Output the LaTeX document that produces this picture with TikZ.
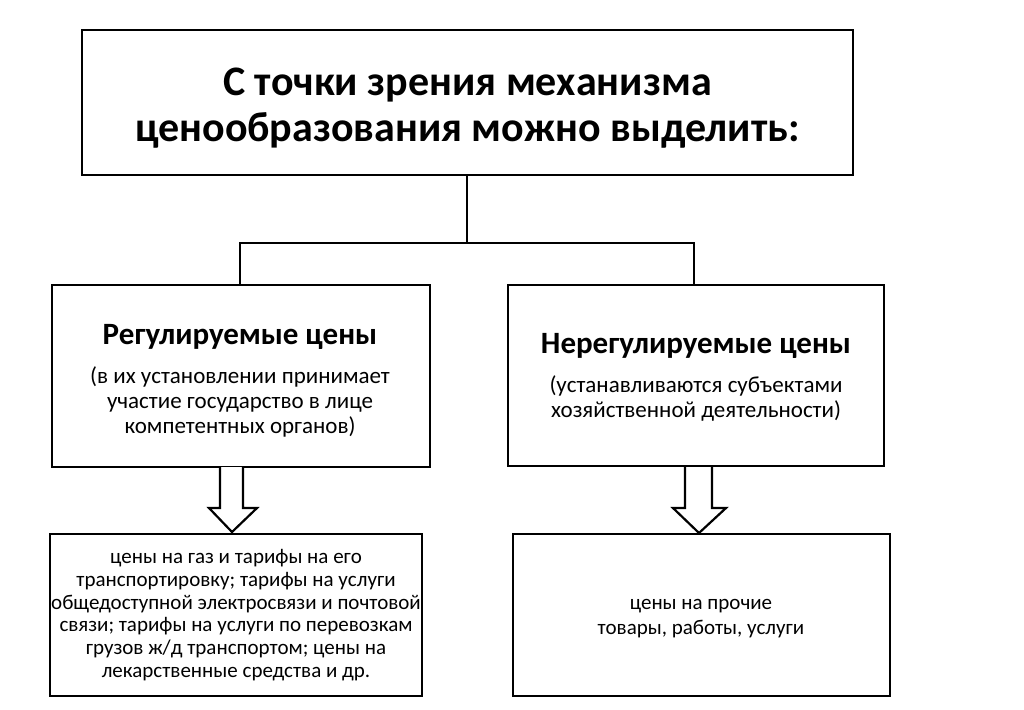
\documentclass[tikz,border=0pt]{standalone}
\usepackage{fontspec}
\setmainfont{Carlito}
\begin{document}
\begin{tikzpicture}[x=1pt,y=-1pt,
  box/.style={draw=black,line width=2.2pt,fill=white,inner sep=0pt},
  txt/.style={align=center,inner sep=0pt},
  conn/.style={draw=black,line width=2.2pt},
  barrow/.style={draw=black,line width=2.2pt,fill=white,line join=miter}]
\useasboundingbox (0,0) rectangle (1024,709);
% boxes
\node[box,minimum width=771pt,minimum height=145pt] (top) at (467.5,102.5) {};
\node[box,minimum width=378pt,minimum height=182pt] (L) at (241,376) {};
\node[box,minimum width=376pt,minimum height=181pt] (R) at (696,375.5) {};
\node[box,minimum width=372pt,minimum height=162pt] (BL) at (236,615) {};
\node[box,minimum width=377pt,minimum height=162pt] (BR) at (701.5,615) {};
% texts
\node[txt,font=\fontsize{42}{46}\selectfont\bfseries] (toptxt) at (467.5,108)
  {С точки зрения механизма\\ценообразования можно выделить:};
\node[txt,font=\fontsize{31}{28}\selectfont\bfseries] (Lt) at (240,337) {Регулируемые цены};
\node[txt,font=\fontsize{23}{25}\selectfont] (Ls) at (240,402)
  {(в их установлении принимает\\участие государство в лице\\компетентных органов)};
\node[txt,font=\fontsize{31}{28}\selectfont\bfseries] (Rt) at (696,346) {Нерегулируемые цены};
\node[txt,font=\fontsize{23}{25}\selectfont] (Rs) at (696,398)
  {(устанавливаются субъектами\\хозяйственной деятельности)};
\node[txt,font=\fontsize{21}{22.7}\selectfont] (BLt) at (236,615)
  {цены на газ и тарифы на его\\транспортировку; тарифы на услуги\\общедоступной электросвязи и почтовой\\связи; тарифы на услуги по перевозкам\\грузов ж/д транспортом; цены на\\лекарственные средства и др.};
\node[txt,font=\fontsize{21}{25}\selectfont] (BRt) at (701,619)
  {цены на прочие\\товары, работы, услуги};
% connectors
\coordinate (J) at (467,243);
\draw[conn] (top.south -| J) -- (J);
\draw[conn] (L.north -| 240,0) |- (J) -| (R.north -| 694,0);
% block arrows
\draw[barrow] (220,467) -- (220,508) -- (209,508) -- (232,532) -- (257,508) -- (243,508) -- (243,467);
\draw[barrow] (685,467) -- (685,508) -- (673,508) -- (699,533) -- (726,508) -- (712,508) -- (712,467);
\end{tikzpicture}
\end{document}
